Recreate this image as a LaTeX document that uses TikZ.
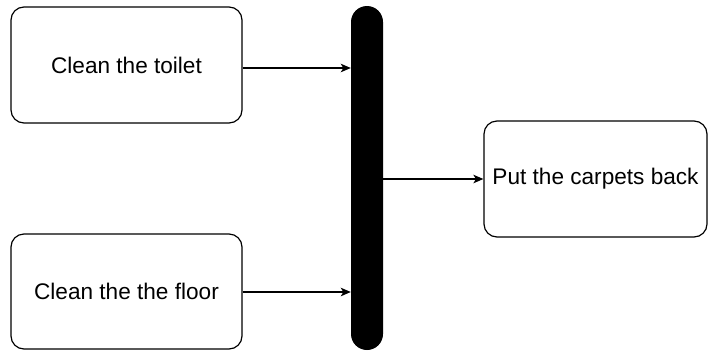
\documentclass[tikz,border=0pt]{standalone}
\usepackage{fontspec}
\setmainfont{Liberation Sans}
\usetikzlibrary{arrows.meta}
\begin{document}
\begin{tikzpicture}[x=1pt,y=-1pt,
  task/.style={draw=black,line width=1.2pt,rounded corners=13pt,fill=white,
    font=\fontsize{22.6}{26}\selectfont,inner sep=0pt},
  conn/.style={line width=1.3pt,-{Stealth[length=10pt,width=8.5pt,inset=2.5pt]}}]
\useasboundingbox (0,0) rectangle (708,351);
\node[task,minimum width=231pt,minimum height=116pt] (t1) at (126.5,65) {Clean the toilet};
\node[task,minimum width=231pt,minimum height=115pt] (t2) at (126.5,291.5) {Clean the the floor};
\node[task,minimum width=223pt,minimum height=116pt] (t3) at (595.5,179) {Put the carpets back};
\node[fill=black,rounded corners=16pt,minimum width=32pt,minimum height=344pt,inner sep=0pt] (bar) at (367,178) {};
\coordinate (b1) at (bar.west |- 0,68);
\coordinate (b2) at (bar.west |- 0,292);
\coordinate (b3) at (bar.east |- 0,179);
\draw[conn] (t1.east |- b1) -- (b1);
\draw[conn] (t2.east |- b2) -- (b2);
\draw[conn] (b3) -- (t3.west);
\end{tikzpicture}
\end{document}
